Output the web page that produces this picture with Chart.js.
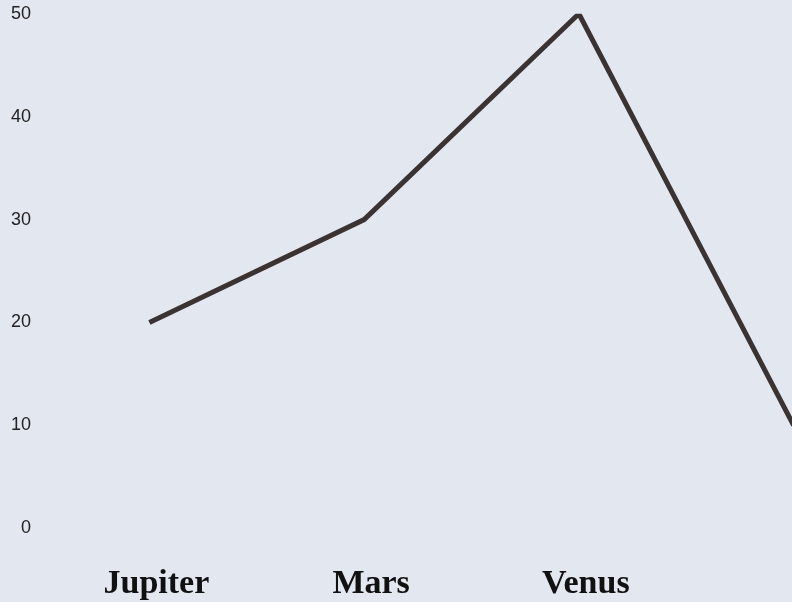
<!DOCTYPE html>
<html>
<head>
<meta charset="utf-8">
<script src="https://cdn.jsdelivr.net/npm/chart.js@4"></script>
<style>
html,body{margin:0;padding:0;background:#e3e7f0;overflow:hidden;width:792px;height:602px;}
#wrap{width:901px;height:602px;}
</style>
</head>
<body>
<div id="wrap"><canvas id="c" width="901" height="602"></canvas></div>
<script>
const categories = ["Jupiter", "Mars", "Venus", ""];
const seriesValues = [20, 30, 50, 10];
const yTicks = [0, 10, 20, 30, 40, 50];

new Chart(document.getElementById('c'), {
  type: 'line',
  data: {
    labels: categories,
    datasets: [{
      data: seriesValues,
      borderColor: '#3b3232',
      borderWidth: 5,
      pointRadius: 0,
      tension: 0,
      fill: false
    }]
  },
  options: {
    responsive: false,
    animation: false,
    plugins: { legend: { display: false }, tooltip: { enabled: false } },
    layout: { padding: { left: 8, top: -8, right: 0, bottom: -31 } },
    scales: {
      x: {
        offset: true,
        grid: { display: false },
        border: { display: false },
        ticks: { color: '#111', font: { family: 'Liberation Serif', size: 34, weight: 'bold' }, padding: 28, maxRotation: 0, labelOffset: 7 }
      },
      y: {
        min: 0, max: 50,
        grid: { display: false },
        border: { display: false },
        afterBuildTicks: (s) => { s.ticks = yTicks.map(v => ({ value: v })); },
        ticks: { color: '#222', font: { family: 'Liberation Sans', size: 18 }, padding: 3 }
      }
    }
  }
});
</script>
</body>
</html>
